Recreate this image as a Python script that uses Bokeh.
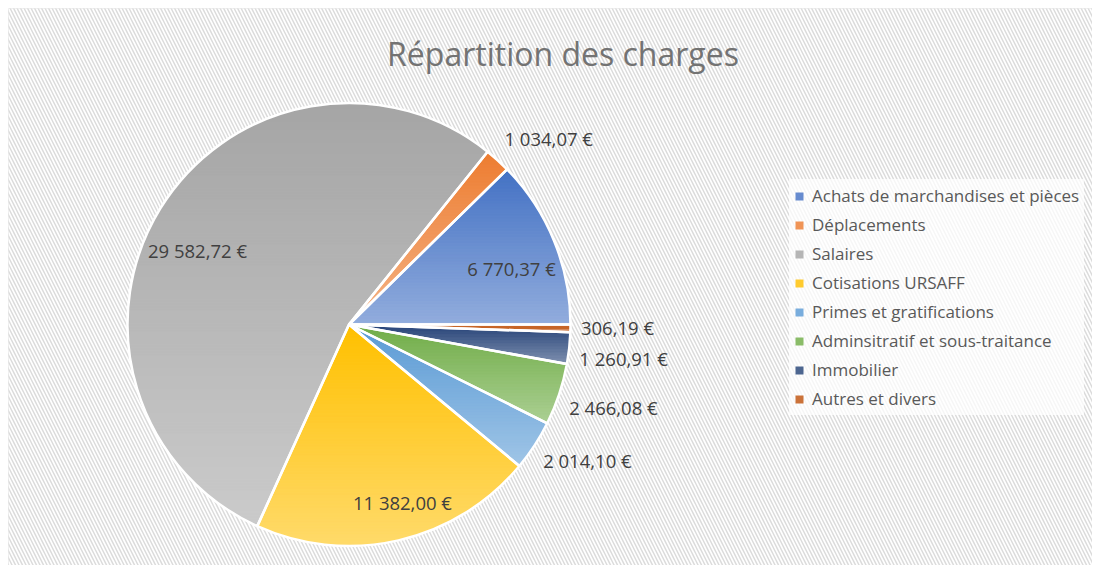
import math
from bokeh.plotting import figure
from bokeh.models import Range1d, Label, Legend, LegendItem, BoxAnnotation, ColumnDataSource
from bokeh.embed import file_html
from bokeh.resources import INLINE
from bokeh.core.properties import value

# ---- data ----
chart_title = "Répartition des charges"
categories = [
    "Achats de marchandises et pièces",
    "Déplacements",
    "Salaires",
    "Cotisations URSAFF",
    "Primes et gratifications",
    "Adminsitratif et sous-traitance",
    "Immobilier",
    "Autres et divers",
]
amounts = [6770.37, 1034.07, 29582.72, 11382.00, 2014.10, 2466.08, 1260.91, 306.19]
base_colors = ["#4472C4", "#ED7D31", "#A5A5A5", "#FFC000", "#5B9BD5", "#70AD47", "#264478", "#C0530E"]

# label placement (style): radius factor and angular nudge in degrees
label_r = [0.776, 1.232, 0.761, 0.839, 1.239, 1.251, 1.249, 1.212]
label_shift = [-3.2, -4.9, 5.6, 3.8, 3.4, 1.0, -0.9, 0.4]


def fmt(v):
    s = f"{v:,.2f}".replace(",", " ").replace(".", ",")
    return s + " €"


def hex2rgb(h):
    h = h.lstrip("#")
    return [int(h[i:i + 2], 16) for i in (0, 2, 4)]


def mix_white(h, t):
    r = hex2rgb(h)
    return "#%02x%02x%02x" % tuple(int(round(c + (255 - c) * t)) for c in r)


def clip(poly, yc, keep_above):
    out = []
    n = len(poly)
    for i in range(n):
        a = poly[i]
        b = poly[(i + 1) % n]
        ina = a[1] >= yc if keep_above else a[1] <= yc
        inb = b[1] >= yc if keep_above else b[1] <= yc
        if ina:
            out.append(a)
        if ina != inb:
            t = (yc - a[1]) / (b[1] - a[1])
            out.append((a[0] + t * (b[0] - a[0]), yc))
    return out


W, H = 1092, 565
cx, cy, R = 348.5, 241.0, 221.5

total = sum(amounts)
starts, ends, mids = [], [], []
acc = 0.0
for a in amounts:
    s = acc / total * 2 * math.pi
    acc += a
    e = acc / total * 2 * math.pi
    starts.append(s)
    ends.append(e)
    mids.append((s + e) / 2)

p = figure(width=W, height=H, x_range=Range1d(0, W), y_range=Range1d(0, H),
           output_backend="svg", toolbar_location=None, min_border=0)
p.axis.visible = False
p.grid.visible = False
p.outline_line_color = None
p.background_fill_color = "white"
p.border_fill_color = "white"

p.add_layout(BoxAnnotation(left=8, right=W + 10, bottom=-20, top=557, fill_color="white", fill_alpha=1,
                           hatch_pattern="left_diagonal_line", hatch_color="#dcdcdc",
                           hatch_scale=7, hatch_weight=1.5, line_color="#d0d0d0", line_width=1,
                           level="underlay"))

# base wedges (used by the legend)
mid_colors = [mix_white(c, 0.18) for c in base_colors]
src = ColumnDataSource(dict(start=starts, end=ends, color=mid_colors))
wr = p.wedge(x=cx, y=cy, radius=R, start_angle="start", end_angle="end",
             fill_color="color", line_color=None, source=src)

# vertical gradient per slice (darker top, lighter bottom)
gxs, gys, gcols = [], [], []
for s, e, col in zip(starts, ends, base_colors):
    n = max(2, int(math.degrees(e - s) * 2))
    pts = [(cx, cy)] + [(cx + R * math.cos(s + (e - s) * k / n), cy + R * math.sin(s + (e - s) * k / n))
                        for k in range(n + 1)]
    ymin = min(q[1] for q in pts)
    ymax = max(q[1] for q in pts)
    nb = max(1, int((ymax - ymin) / 3))
    for b in range(nb):
        y0 = ymin + (ymax - ymin) * b / nb
        y1 = ymin + (ymax - ymin) * (b + 1) / nb
        poly = clip(clip(pts, y0, True), y1, False)
        if len(poly) < 3:
            continue
        t = 1 - ((y0 + y1) / 2 - ymin) / (ymax - ymin)
        gxs.append([q[0] for q in poly])
        gys.append([q[1] for q in poly])
        gcols.append(mix_white(col, 0.42 * t))
p.patches(xs=gxs, ys=gys, fill_color=gcols, line_color=gcols, line_width=1)

# white separators
p.wedge(x=cx, y=cy, radius=R, start_angle=starts, end_angle=ends,
        fill_alpha=0, line_color="white", line_width=2.5)

lx = [cx + lr * R * math.cos(m + math.radians(sh)) for lr, m, sh in zip(label_r, mids, label_shift)]
ly = [cy + lr * R * math.sin(m + math.radians(sh)) for lr, m, sh in zip(label_r, mids, label_shift)]
p.text(x=lx, y=ly, text=[fmt(v) for v in amounts], text_align="center", text_baseline="middle",
       text_font=value("Open Sans"), text_font_size="18.5px", text_color="#404040")

p.add_layout(Label(x=562.5, y=512, text=chart_title, text_align="center", text_baseline="middle",
                   text_font="Open Sans", text_font_size="32px", text_color="#737373"))

items = [LegendItem(label=c, renderers=[wr], index=i) for i, c in enumerate(categories)]
leg = Legend(items=items, location=(789, 150), border_line_alpha=0,
             background_fill_color="white", background_fill_alpha=0.75,
             label_text_font="Open Sans", label_text_font_size="17px", label_text_color="#595959",
             glyph_width=10, glyph_height=10, spacing=6, padding=5, margin=0,
             label_standoff=8)
p.add_layout(leg)

open("out.html", "w").write(file_html(p, INLINE))
